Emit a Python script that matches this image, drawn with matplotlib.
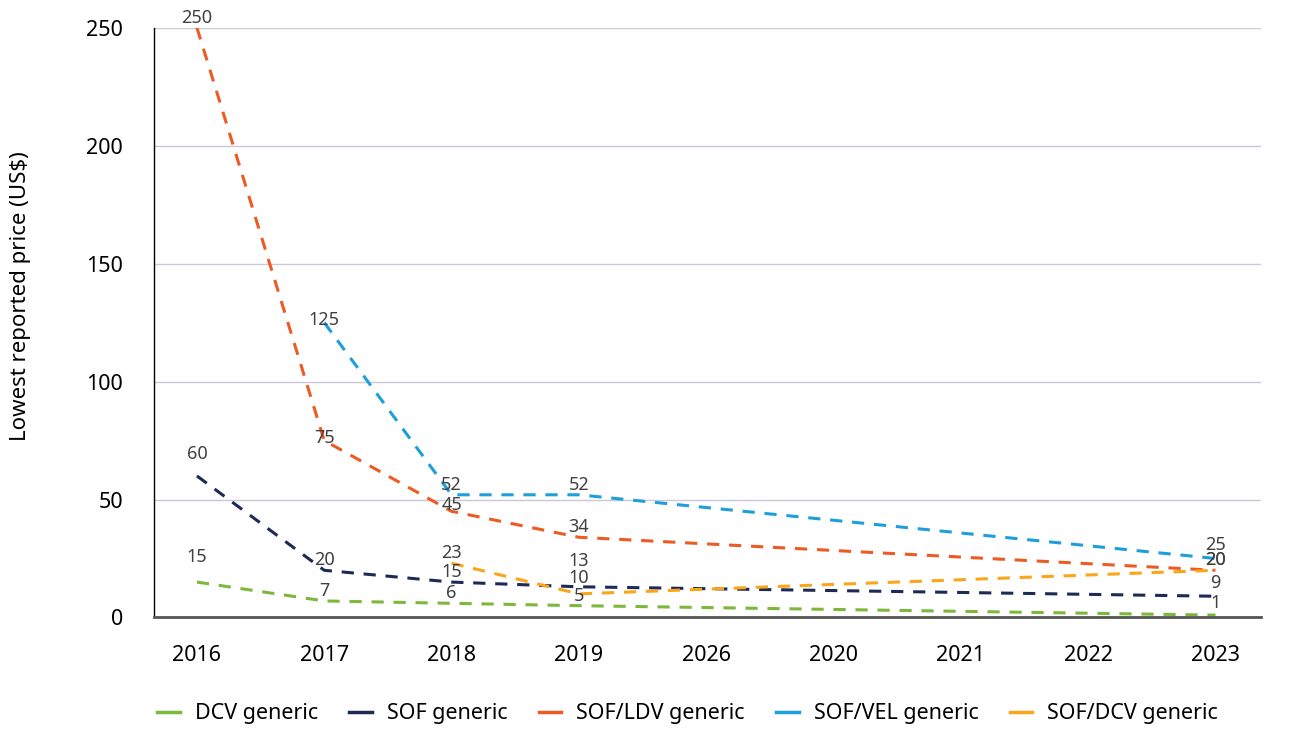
import numpy as np
import matplotlib.pyplot as plt
from matplotlib.lines import Line2D

plt.rcParams['font.family'] = ['Noto Sans', 'DejaVu Sans']

years = ['2016', '2017', '2018', '2019', '2026', '2020', '2021', '2022', '2023']

# None = no value reported for that category (line joins across the gap)
dcv = [15, 7, 6, 5, None, None, None, None, 1]
sof = [60, 20, 15, 13, None, None, None, None, 9]
sof_ldv = [250, 75, 45, 34, None, None, None, None, 20]
sof_vel = [None, 125, 52, 52, None, None, None, None, 25]
sof_dcv = [None, None, 23, 10, None, None, None, None, 20]

series = [
    ('DCV generic', dcv, '#7DB83A'),
    ('SOF generic', sof, '#1E2A55'),
    ('SOF/LDV generic', sof_ldv, '#EE5A24'),
    ('SOF/VEL generic', sof_vel, '#1C9FDA'),
    ('SOF/DCV generic', sof_dcv, '#F9A61A'),
]

# label lift above its point (px); default 10, a few were moved by hand
lift = {('DCV generic', 0): 25, ('SOF generic', 0): 22, ('SOF generic', 3): 26,
        ('SOF/VEL generic', 1): 3, ('SOF/LDV generic', 1): 3, ('SOF/LDV generic', 2): 6,
        ('SOF/DCV generic', 3): 16, ('SOF/VEL generic', 8): 13, ('SOF generic', 8): 13,
        ('DCV generic', 8): 12}

fig = plt.figure(figsize=(12.91, 7.29), dpi=100)
ax = fig.add_axes([0.119, 0.153, 0.858, 0.809])

handles = []
for name, vals, col in series:
    xs = [i for i, v in enumerate(vals) if v is not None]
    ys = [v for v in vals if v is not None]
    ax.plot(xs, ys, color=col, lw=2.2, ls=(0, (4, 3.2)))
    handles.append(Line2D([], [], color=col, lw=2.5, ls='-', label=name))
    for x, y in zip(xs, ys):
        off = lift.get((name, x), 10) * 72 / 100
        ax.annotate(str(y), (x, y), xytext=(0, off), textcoords='offset points',
                    ha='center', va='center', fontsize=13, color='#404040')

ax.set_xlim(-0.34, 8.36)
ax.set_ylim(0, 250)
ax.set_yticks(np.arange(0, 251, 50))
ax.set_xticks(range(len(years)))
ax.set_xticklabels(years)
ax.tick_params(axis='both', length=0, labelsize=15.5, colors='black')
ax.tick_params(axis='x', pad=20)
ax.tick_params(axis='y', pad=22)
ax.grid(axis='y', color='#C9C7D9', lw=1)
ax.set_axisbelow(True)
for s in ['top', 'right']:
    ax.spines[s].set_visible(False)
ax.spines['left'].set_color('black')
ax.spines['left'].set_linewidth(1)
ax.spines['bottom'].set_color('#555555')
ax.spines['bottom'].set_linewidth(2)
ax.set_ylabel('Lowest reported price (US$)', fontsize=16)
ax.yaxis.set_label_coords(-0.111, 0.545)

ax.legend(handles=handles, loc='center', bbox_to_anchor=(0.482, -0.163), ncol=5,
          frameon=False, fontsize=15.5, handlelength=1.05, columnspacing=1.45,
          handletextpad=0.7, borderpad=0.1)

fig.savefig('out.png', dpi=100)
